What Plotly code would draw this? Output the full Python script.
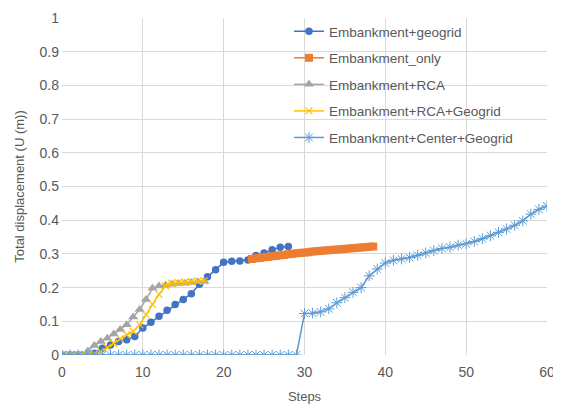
import numpy as np
import plotly.graph_objects as go

# ---- data ----
geogrid_x = list(range(0, 29))
geogrid_y = [0, 0, 0, 0, 0.005, 0.02, 0.03, 0.04, 0.045, 0.055, 0.08, 0.097, 0.115,
             0.133, 0.15, 0.165, 0.182, 0.21, 0.232, 0.253, 0.275, 0.278, 0.279,
             0.282, 0.295, 0.303, 0.312, 0.32, 0.322]

only_x = [23.5 + 0.5 * i for i in range(31)]
only_y = [0.285, 0.287, 0.288, 0.29, 0.291, 0.293, 0.294, 0.296, 0.297, 0.299, 0.300,
          0.302, 0.303, 0.304, 0.305, 0.307, 0.308, 0.309, 0.310, 0.311, 0.312, 0.313,
          0.314, 0.315, 0.316, 0.317, 0.318, 0.319, 0.320, 0.321, 0.322]

rca_x = [0.8 * i for i in range(23)]
rca_y = [0, 0, 0, 0, 0.012, 0.028, 0.04, 0.05, 0.062, 0.076, 0.09, 0.113, 0.135,
         0.165, 0.198, 0.205, 0.207, 0.21, 0.212, 0.213, 0.215, 0.217, 0.218]

rcag_x = [0.8 * i for i in range(23)]
rcag_y = [0, 0, 0, 0, 0, 0.003, 0.01, 0.022, 0.035, 0.048, 0.06, 0.07, 0.09, 0.12,
          0.15, 0.18, 0.205, 0.213, 0.215, 0.216, 0.218, 0.219, 0.22]

center_x = list(range(0, 61))
center_y = [0] * 30 + [0.123, 0.124, 0.128, 0.137, 0.155, 0.17, 0.186, 0.2, 0.235,
                       0.255, 0.273, 0.281, 0.285, 0.289, 0.296, 0.303, 0.31, 0.316,
                       0.32, 0.326, 0.33, 0.337, 0.345, 0.354, 0.364, 0.374, 0.385,
                       0.398, 0.418, 0.432, 0.442]

names = ["Embankment+geogrid", "Embankment_only", "Embankment+RCA",
         "Embankment+RCA+Geogrid", "Embankment+Center+Geogrid"]

FONT = "Liberation Sans, Arial, sans-serif"
TXT = "#595959"

fig = go.Figure()
fig.add_trace(go.Scatter(x=geogrid_x, y=geogrid_y, name=names[0], mode="lines+markers",
                         line=dict(color="#4472C4", width=1.5),
                         marker=dict(symbol="circle", size=7.5, color="#4472C4"),
                         legendgroup="a"))
fig.add_trace(go.Scatter(x=only_x, y=only_y, name=names[1], mode="lines+markers",
                         line=dict(color="#ED7D31", width=1.5),
                         marker=dict(symbol="square", size=8, color="#ED7D31"),
                         legendgroup="b"))
fig.add_trace(go.Scatter(x=rca_x, y=rca_y, name=names[2], mode="lines+markers",
                         line=dict(color="#A5A5A5", width=1.5),
                         marker=dict(symbol="triangle-up", size=9, color="#A5A5A5"),
                         legendgroup="c"))
fig.add_trace(go.Scatter(x=rcag_x, y=rcag_y, name=names[3], mode="lines+markers",
                         line=dict(color="#FFC000", width=1.5),
                         marker=dict(symbol="x-thin-open", size=7,
                                     line=dict(color="#FFC000", width=1.2)),
                         legendgroup="d"))
fig.add_trace(go.Scatter(x=center_x, y=center_y, name=names[4], mode="lines+markers",
                         line=dict(color="#5B9BD5", width=1.5),
                         marker=dict(symbol="asterisk-open", size=9,
                                     line=dict(color="#8DB8E3", width=1)),
                         legendgroup="e"))

grid = "#D9D9D9"
# the page body adds an 8px offset, so the figure is sized/margined to compensate
fig.update_layout(
    width=553, height=398,
    margin=dict(l=54, r=14, t=8, b=51),
    paper_bgcolor="white", plot_bgcolor="white",
    font=dict(family=FONT, size=13, color=TXT),
    showlegend=True,
    legend=dict(x=0.468, y=1.006, xanchor="left", yanchor="top",
                bgcolor="rgba(255,255,255,0)", font=dict(size=13.5, color=TXT),
                tracegroupgap=6),
    xaxis=dict(range=[0, 60], dtick=10, showgrid=True, gridcolor=grid, gridwidth=1,
               zeroline=False, showline=False, ticks="", automargin=False,
               ticklabelstandoff=7,
               tickfont=dict(size=14, color=TXT),
               title=dict(text="Steps", font=dict(size=13, color=TXT), standoff=12)),
    yaxis=dict(range=[0, 1], dtick=0.1, showgrid=True, gridcolor=grid, gridwidth=1,
               zeroline=False, showline=False, ticks="", automargin=False,
               ticklabelstandoff=2,
               tickfont=dict(size=14, color=TXT),
               title=dict(text="Total displacement (U (m))",
                          font=dict(size=13, color=TXT), standoff=11)),
)

fig.write_html("out.html")
